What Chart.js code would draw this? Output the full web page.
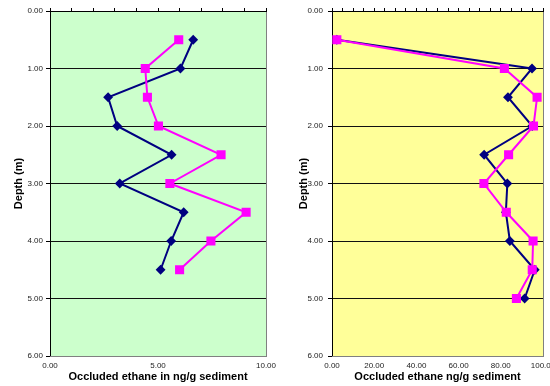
<!DOCTYPE html>
<html>
<head>
<meta charset="utf-8">
<script src="https://cdn.jsdelivr.net/npm/chart.js@4/dist/chart.umd.min.js"></script>
<style>
  html, body { margin: 0; padding: 0; background: #fff; }
  #wrap { position: relative; width: 550px; height: 386px; overflow: hidden; }
  canvas { position: absolute; top: 0; }
  #c1 { left: 0; }
  #c2 { left: 280px; }
</style>
</head>
<body>
<div id="wrap">
  <canvas id="c1" width="280" height="386"></canvas>
  <canvas id="c2" width="270" height="386"></canvas>
</div>
<script>
// Core depths (m)
const depthsA = [0.5, 1.0, 1.5, 2.0, 2.5, 3.0, 3.5, 4.0, 4.5];
const depthsB = [0.5, 1.0, 1.5, 2.0, 2.5, 3.0, 3.5, 4.0, 4.5, 5.0];

// Occluded ethane, ng/g sediment
const ethaneA_navy    = [6.63, 6.04, 2.69, 3.11, 5.63, 3.23, 6.19, 5.61, 5.12];
const ethaneA_magenta = [5.96, 4.41, 4.51, 5.02, 7.92, 5.55, 9.08, 7.45, 6.00];

const ethaneB_navy    = [2.3, 94.8, 83.4, 94.9, 72.1, 83.1, 82.4, 84.3, 96.1, 91.3];
const ethaneB_magenta = [2.3, 81.7, 97.2, 95.5, 83.7, 72.0, 82.6, 95.3, 94.9, 87.4];

// Axis settings
const depthTicks = { min: 0, max: 6, step: 1 };
const xRangeA = { min: 0, max: 10, labelStep: 5, tickStep: 1 };
const xRangeB = { min: 0, max: 100, labelStep: 20, tickStep: 5 };

const xTitleA = 'Occluded ethane in ng/g sediment';
const xTitleB = 'Occluded ethane ng/g sediment';
const yTitle = 'Depth (m)';

const FONT = "'Liberation Sans', Arial, sans-serif";

function toPoints(xs, ys) {
  return xs.map((v, i) => ({ x: v, y: ys[i] }));
}

// Fills the plotting area and outlines it in grey
const plotBackground = {
  id: 'plotBackground',
  beforeDraw(chart, args, opts) {
    const { ctx, chartArea: a } = chart;
    ctx.save();
    ctx.fillStyle = opts.color;
    ctx.fillRect(a.left, a.top, a.right - a.left, a.bottom - a.top);
    ctx.strokeStyle = '#808080';
    ctx.lineWidth = 1;
    ctx.strokeRect(Math.round(a.left) + 0.5, Math.round(a.top) + 0.5,
                   Math.round(a.right - a.left), Math.round(a.bottom - a.top));
    ctx.restore();
  }
};

function makeChart(canvasId, cfg) {
  const navyData = toPoints(cfg.navy, cfg.depths);
  const magentaData = toPoints(cfg.magenta, cfg.depths);
  return new Chart(document.getElementById(canvasId), {
    type: 'scatter',
    data: {
      datasets: [
        {
          data: magentaData,
          showLine: true,
          borderColor: '#FF00FF',
          backgroundColor: '#FF00FF',
          borderWidth: 2,
          pointStyle: 'rect',
          pointRadius: 5,
          pointHoverRadius: 5,
          xAxisID: 'x', yAxisID: 'y'
        },
        {
          data: navyData,
          showLine: true,
          borderColor: '#000080',
          backgroundColor: '#000080',
          borderWidth: 2,
          pointStyle: 'rectRot',
          pointRadius: 3.5,
          pointHoverRadius: 3.5,
          xAxisID: 'x', yAxisID: 'y'
        }
      ]
    },
    options: {
      responsive: false,
      animation: false,
      devicePixelRatio: 1,
      layout: { padding: { left: 0, right: cfg.padRight, top: 0, bottom: 0 } },
      plugins: {
        legend: { display: false },
        tooltip: { enabled: false },
        plotBackground: { color: cfg.bg }
      },
      scales: {
        y: {
          type: 'linear',
          position: 'left',
          reverse: true,
          min: depthTicks.min, max: depthTicks.max,
          afterFit(s) { s.width = cfg.yWidth; s.paddingTop = 0; s.paddingBottom = 0; },
          ticks: {
            stepSize: depthTicks.step,
            padding: cfg.yTickPad,
            color: '#222',
            font: { family: FONT, size: 8 },
            callback: v => Number(v).toFixed(2)
          },
          grid: {
            color: ctx => (ctx.tick && ctx.tick.value === depthTicks.max) ? '#808080' : '#111',
            tickColor: '#000',
            lineWidth: 1,
            tickLength: 4
          },
          border: { color: '#000', width: 1 },
          title: {
            display: true,
            text: yTitle,
            color: '#000',
            font: { family: FONT, size: 11, weight: 'bold' },
            padding: { top: cfg.yTitlePad, bottom: 0 }
          }
        },
        x: {
          type: 'linear',
          position: 'bottom',
          min: cfg.range.min, max: cfg.range.max,
          afterFit(s) { s.height = 30; s.paddingLeft = 0; s.paddingRight = 0; },
          ticks: {
            stepSize: cfg.range.labelStep,
            padding: 5,
            color: '#222',
            maxRotation: 0,
            font: { family: FONT, size: 8 },
            callback: v => Number(v).toFixed(2)
          },
          grid: { display: false, drawTicks: false },
          border: { color: '#808080', width: 1 },
          title: {
            display: true,
            text: cfg.xTitle,
            color: '#000',
            font: { family: FONT, size: 11, weight: 'bold' },
            padding: { top: 0, bottom: 2 }
          }
        },
        xTop: {
          type: 'linear',
          position: 'top',
          min: cfg.range.min, max: cfg.range.max,
          afterFit(s) { s.height = 11; s.paddingLeft = 0; s.paddingRight = 0; },
          ticks: { display: false, stepSize: cfg.range.tickStep },
          grid: {
            drawOnChartArea: false,
            drawTicks: true,
            tickLength: 3,
            color: '#000',
            lineWidth: 1
          },
          border: { color: '#000', width: 1 }
        }
      }
    },
    plugins: [plotBackground]
  });
}

makeChart('c1', {
  depths: depthsA, navy: ethaneA_navy, magenta: ethaneA_magenta,
  range: xRangeA, xTitle: xTitleA, bg: '#CCFFCC',
  yWidth: 50, padRight: 14, yTickPad: 3, yTitlePad: 12
});

makeChart('c2', {
  depths: depthsB, navy: ethaneB_navy, magenta: ethaneB_magenta,
  range: xRangeB, xTitle: xTitleB, bg: '#FFFF99',
  yWidth: 52, padRight: 4, yTickPad: 5, yTitlePad: 17
});
</script>
</body>
</html>
